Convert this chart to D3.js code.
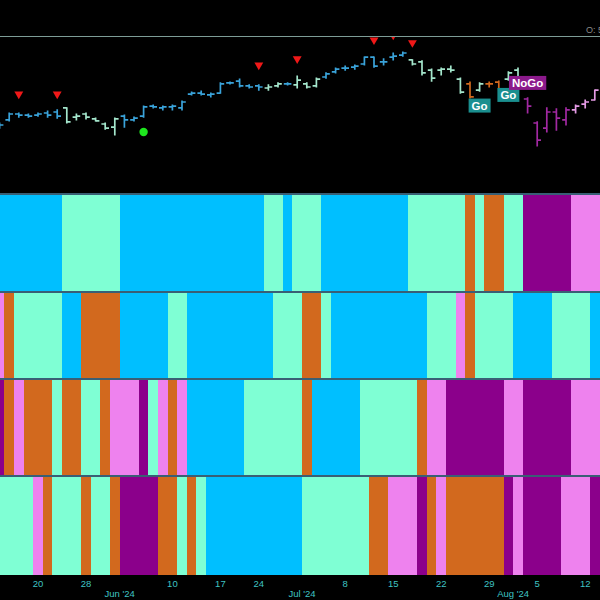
<!DOCTYPE html>
<html><head><meta charset="utf-8">
<script src="https://cdn.jsdelivr.net/npm/d3@7"></script>
<style>html,body{margin:0;padding:0;background:#000;}svg{display:block;}</style>
</head><body>
<svg id="chart" width="600" height="600"></svg>
<script>
// ---------- DATA ----------
const dates = ["2024-05-14","2024-05-15","2024-05-16","2024-05-17","2024-05-20","2024-05-21","2024-05-22","2024-05-23","2024-05-24","2024-05-28","2024-05-29","2024-05-30","2024-05-31",
"2024-06-03","2024-06-04","2024-06-05","2024-06-06","2024-06-07","2024-06-10","2024-06-11","2024-06-12","2024-06-13","2024-06-14","2024-06-17","2024-06-18","2024-06-20","2024-06-21","2024-06-24","2024-06-25","2024-06-26","2024-06-27","2024-06-28",
"2024-07-01","2024-07-02","2024-07-03","2024-07-05","2024-07-08","2024-07-09","2024-07-10","2024-07-11","2024-07-12","2024-07-15","2024-07-16","2024-07-17","2024-07-18","2024-07-19","2024-07-22","2024-07-23","2024-07-24","2024-07-25","2024-07-26","2024-07-29","2024-07-30","2024-07-31",
"2024-08-01","2024-08-02","2024-08-05","2024-08-06","2024-08-07","2024-08-08","2024-08-09","2024-08-12","2024-08-13"];

const open  = [521.2,524.8,528.3,527.7,527.7,528.9,529.5,531.9,526.5,528.3,525.4,522.4,520.6,527.1,524.8,527.1,533.0,531.9,532.5,531.9,540.1,540.7,539.6,540.7,546.7,547.8,544.9,544.9,543.7,544.9,546.1,545.5,546.1,544.9,550.2,553.2,555.5,556.1,557.9,562.0,559.1,562.0,563.2,560.3,559.1,554.3,554.3,554.9,549.0,546.1,542.5,546.1,547.2,549.0,554.3,537.2,523.0,520.0,529.5,524.8,530.7,534.2,536.6];
const high  = [523.0,528.9,528.9,528.3,528.9,530.1,530.7,531.9,528.3,528.9,525.9,523.0,525.9,527.7,526.5,533.0,533.6,533.0,533.6,536.0,541.3,541.9,540.7,546.7,547.2,549.0,545.5,545.5,545.5,546.7,546.7,550.8,546.7,549.6,552.6,555.5,556.7,557.3,562.0,562.0,560.9,564.4,565.0,560.3,559.7,554.9,555.5,556.7,549.6,547.2,546.7,547.2,547.8,553.2,555.5,537.8,523.6,531.9,531.3,531.9,533.6,536.6,542.5];
const low   = [520.0,524.2,526.5,526.5,527.1,526.5,525.9,523.0,524.8,525.4,524.2,519.4,515.9,520.6,524.2,526.5,531.9,530.7,530.7,530.7,539.6,539.6,538.4,540.7,546.1,544.3,543.7,542.5,542.5,544.3,545.5,543.7,543.7,544.3,549.6,552.6,554.3,554.9,557.3,556.1,557.3,560.3,562.6,557.3,551.4,547.8,551.4,553.2,540.7,537.8,541.9,544.3,542.5,548.4,542.5,528.9,509.4,517.7,518.8,521.8,528.9,531.9,536.6];
const close = [521.8,528.3,527.7,527.1,528.3,527.7,527.1,523.6,527.1,526.5,524.2,520.0,525.4,524.8,525.9,532.5,532.5,532.5,533.0,535.4,540.7,540.1,540.1,546.1,546.7,544.9,544.3,544.3,544.3,546.1,546.1,548.4,544.3,549.0,552.0,554.9,555.5,556.7,562.0,556.7,559.1,562.6,564.4,557.9,552.6,549.6,554.9,554.3,541.3,538.4,546.1,546.1,543.1,552.6,543.7,533.0,512.9,529.5,525.9,530.7,533.0,535.4,542.5];

// GoNoGo state codes: B strong Go, A weak Go, O Go Fish / neutral, P weak NoGo, M strong NoGo
const trendStrip = "BBBBBBBAAAAAABBBBBBBBBBBBBBBAABAAABBBBBBBBBAAAAAAOAOOAAMMMMMPPP".split("");
const strip2     = "POAAAAABBOOOOBBBBBAABBBBBBBBBAAAOOABBBBBBBBBBAAAPOAAAABBBBAAAAB".split("");
const strip3     = "MOPOOOAOOAAOPPPMAPOPBBBBBBAAAAAAOBBBBBAAAAAAOPPMMMMMMPPMMMMMPPP".split("");
const strip4     = "AAAAPOAAAOAAOMMMMOOAOABBBBBBBBBBAAAAAAAOOPPPMOPOOOOOOMPMMMMPPPM".split("");

const stateColor = {B:"#00BFFF", A:"#7FFFD4", O:"#D2691E", P:"#EE82EE", M:"#8B008B"};
const barColor   = {B:"#3aa3da", A:"#a4e6cc", O:"#d2691e", P:"#e49ae4", M:"#a229a2"};

const sellMarkers = [{d:"2024-05-16",p:540.1},{d:"2024-05-22",p:540.1},{d:"2024-06-24",p:557.3},{d:"2024-06-28",p:560.9},{d:"2024-07-11",p:572.1},{d:"2024-07-15",p:575.0},{d:"2024-07-17",p:570.5}];
const buyMarkers  = [{d:"2024-06-05",p:517.7}];
const labels = [{d:"2024-07-26",p:533.3,text:"Go",fill:"#1a8f8f"},{d:"2024-07-31",p:539.6,text:"Go",fill:"#1a8f8f"},{d:"2024-08-02",p:546.7,text:"NoGo",fill:"#8b1a8b"}];

const dayTicks = ["2024-05-20","2024-05-28","2024-06-10","2024-06-17","2024-06-24","2024-07-08","2024-07-15","2024-07-22","2024-07-29","2024-08-05","2024-08-12"];
const dayTickLabels = ["20","28","10","17","24","8","15","22","29","5","12"];
const monthTicks = ["2024-06-03","2024-07-01","2024-08-01"];
const monthTickLabels = ["Jun '24","Jul '24","Aug '24"];

// ---------- CHART ----------
const svg = d3.select("#chart");
svg.append("rect").attr("width",600).attr("height",600).attr("fill","#000");

const x = d3.scaleBand().domain(dates).range([-5.2, 599.6]).padding(0);
const bw = x.bandwidth();
const cx = d => x(d) + bw/2;

const y = d3.scaleLinear().domain([500, 570]).range([161.85, 43.55]);

// price panel clip
svg.append("clipPath").attr("id","pclip").append("rect").attr("x",0).attr("y",36.5).attr("width",600).attr("height",157);
const price = svg.append("g").attr("clip-path","url(#pclip)");

// top line
svg.append("line").attr("x1",0).attr("x2",600).attr("y1",36.5).attr("y2",36.5).attr("stroke","#7d9c96").attr("stroke-width",1);
svg.append("text").attr("x",586).attr("y",33).attr("fill","#8a8a8a").attr("font-family","Liberation Sans, Arial, sans-serif").attr("font-size",9).text("O: 542.50");

const bars = dates.map((d,i)=>({d, o:open[i], h:high[i], l:low[i], c:close[i], s:trendStrip[i]}));
const tick = 3.8;
const bg = price.selectAll("g.bar").data(bars).join("g").attr("class","bar")
  .attr("stroke", b=>barColor[b.s]).attr("stroke-width",1.7).attr("fill","none");
bg.append("line").attr("x1",b=>cx(b.d)).attr("x2",b=>cx(b.d)).attr("y1",b=>y(b.h)-0.6).attr("y2",b=>y(b.l)+0.6);
bg.append("line").attr("x1",b=>cx(b.d)-tick).attr("x2",b=>cx(b.d)).attr("y1",b=>y(b.o)).attr("y2",b=>y(b.o));
bg.append("line").attr("x1",b=>cx(b.d)).attr("x2",b=>cx(b.d)+tick).attr("y1",b=>y(b.c)).attr("y2",b=>y(b.c));

// markers
const tri = d3.symbol().type(d3.symbolTriangle).size(34);
price.selectAll("path.sell").data(sellMarkers).join("path").attr("class","sell")
  .attr("d",tri).attr("fill","#f01818")
  .attr("transform",m=>`translate(${cx(m.d)},${y(m.p)}) rotate(180)`);
price.selectAll("circle.buy").data(buyMarkers).join("circle").attr("class","buy")
  .attr("cx",m=>cx(m.d)).attr("cy",m=>y(m.p)).attr("r",4.2).attr("fill","#1ee61e");

// labels
const lg = price.selectAll("g.lbl").data(labels).join("g").attr("class","lbl")
  .attr("transform",m=>`translate(${cx(m.d)},${y(m.p)})`);
const lrect = lg.append("rect").attr("y",-7).attr("height",14).attr("fill",m=>m.fill);
const ltext = lg.append("text").attr("text-anchor","middle").attr("dy","0.36em").attr("fill","#fff")
  .attr("font-family","Liberation Sans, Arial, sans-serif").attr("font-weight","bold").attr("font-size",11.5).text(m=>m.text);
ltext.each(function(m){ m.w = this.getComputedTextLength() + 6; });
lrect.attr("x",m=>-m.w/2).attr("width",m=>m.w);

// strips (consecutive equal states merged into one rect)
const strips = [
  {data:trendStrip, y0:195, y1:291},
  {data:strip2, y0:293, y1:378},
  {data:strip3, y0:380, y1:475},
  {data:strip4, y0:477, y1:575}
];
function runs(arr){
  const out=[]; let s=0;
  for(let i=1;i<=arr.length;i++){
    if(i===arr.length || arr[i]!==arr[s]){ out.push({a:dates[s], b:dates[i-1], v:arr[s]}); s=i; }
  }
  return out;
}
strips.forEach(s=>{
  const g = svg.append("g").attr("shape-rendering","crispEdges");
  g.selectAll("rect").data(runs(s.data)).join("rect")
    .attr("x",r=>x(r.a)).attr("width",r=>x(r.b)+bw-x(r.a)+0.5)
    .attr("y",s.y0).attr("height",s.y1-s.y0)
    .attr("fill",r=>stateColor[r.v]);
  svg.append("line").attr("x1",0).attr("x2",600).attr("y1",s.y0-1).attr("y2",s.y0-1).attr("stroke","#4c7f9c").attr("stroke-width",1.5);
});

// x axis labels
const ax = svg.append("g").attr("font-family","Liberation Sans, Arial, sans-serif").attr("font-size",9.5).attr("fill","#3fc3c3");
ax.selectAll("text.day").data(dayTicks).join("text").attr("class","day")
  .attr("x",d=>cx(d)).attr("y",587).attr("text-anchor","middle").text((d,i)=>dayTickLabels[i]);
ax.selectAll("text.mon").data(monthTicks).join("text").attr("class","mon")
  .attr("x",d=>x(d)).attr("y",597).attr("text-anchor","middle").text((d,i)=>monthTickLabels[i]);
</script>
</body></html>
